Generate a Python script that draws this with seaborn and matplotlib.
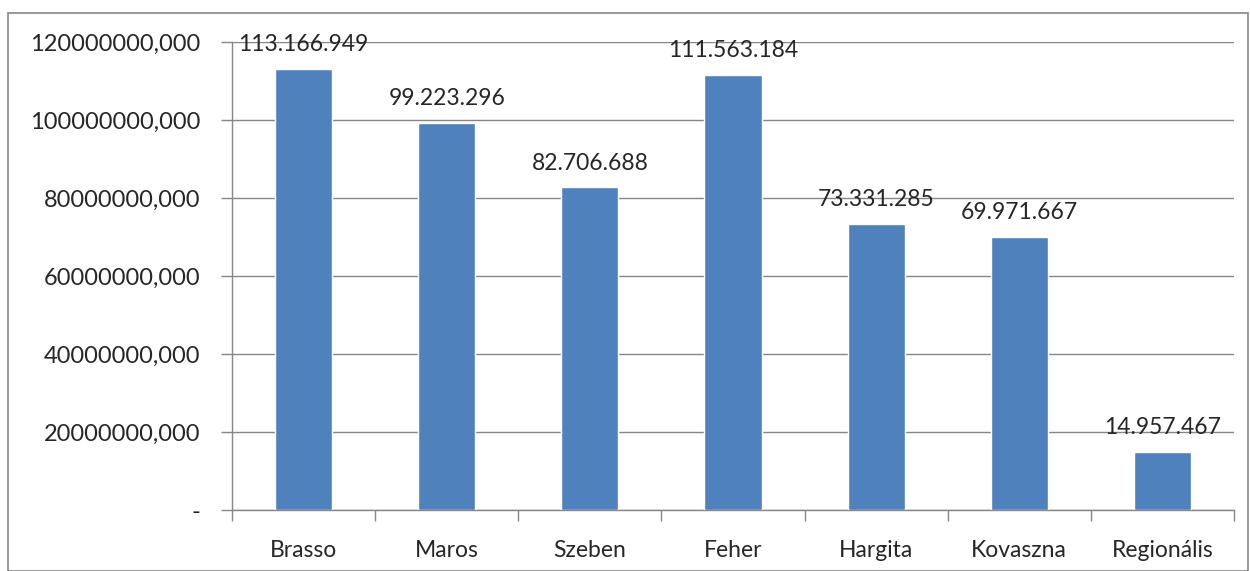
import seaborn as sns
import matplotlib.pyplot as plt
import pandas as pd
from matplotlib.patches import Rectangle

regions = ['Brasso', 'Maros', 'Szeben', 'Feher', 'Hargita', 'Kovaszna', 'Regionális']
values = [113166949, 99223296, 82706688, 111563184, 73331285, 69971667, 14957467]
y_ticks = [0, 20000000, 40000000, 60000000, 80000000, 100000000, 120000000]
y_labels = ['-', '20000000,000', '40000000,000', '60000000,000',
            '80000000,000', '100000000,000', '120000000,000']

data = pd.DataFrame({'region': regions, 'value': values})

sns.set_style('white')
plt.rcParams['font.family'] = ['Lato', 'DejaVu Sans']
grey = '#868686'

fig = plt.figure(figsize=(12.5, 5.71), dpi=100)
ax = fig.add_axes([0.1856, 0.1068, 0.8016, 0.8196])

sns.barplot(x='region', y='value', data=data, color='#4F81BD', width=0.4,
            saturation=1, ax=ax, zorder=3)

ax.set_ylim(0, 120000000)
ax.set_xlim(-0.5, len(regions) - 0.5)
ax.set_yticks(y_ticks)
ax.set_yticklabels(y_labels, fontsize=17)
ax.tick_params(axis='y', left=True, length=8, color=grey, width=1, pad=15)
ax.tick_params(axis='x', which='major', bottom=False, labelsize=16.5, pad=18)
ax.set_xticks([i - 0.5 for i in range(len(regions) + 1)], minor=True)
ax.tick_params(axis='x', which='minor', bottom=True, length=8, color=grey, width=1)
ax.grid(axis='y', color=grey, linewidth=1, zorder=0)
ax.set_axisbelow(True)
for s in ['top', 'right']:
    ax.spines[s].set_visible(False)
for s in ['left', 'bottom']:
    ax.spines[s].set_color(grey)
    ax.spines[s].set_linewidth(1)
ax.set_xlabel('')
ax.set_ylabel('')

for i, v in enumerate(values):
    label = f'{v:,}'.replace(',', '.')
    ax.annotate(label, (i, v), xytext=(0, 10), textcoords='offset points',
                ha='center', va='bottom', fontsize=16.5)

fig.patches.append(Rectangle((8 / 1250, 0), 1240 / 1250, 558 / 571,
                             transform=fig.transFigure, fill=False,
                             edgecolor=grey, linewidth=1.2))

fig.savefig('out.png', dpi=100)
